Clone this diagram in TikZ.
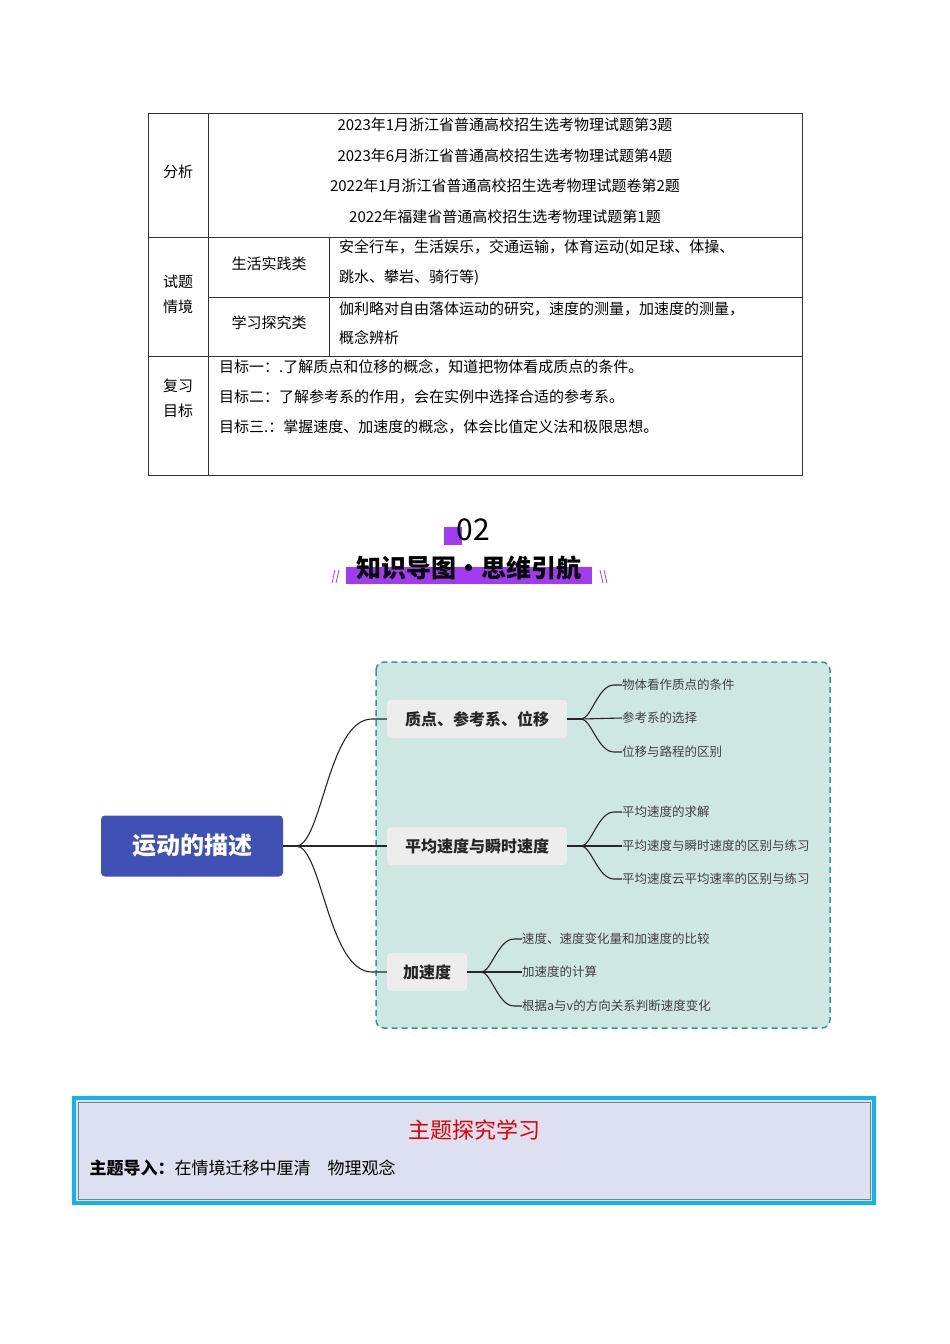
\documentclass[tikz,border=0pt]{standalone}
\usepackage{fontspec}
\setmainfont{Noto Sans CJK SC}
\usetikzlibrary{positioning,calc}
\definecolor{rootblue}{HTML}{3F51B5}
\definecolor{mapbg}{HTML}{CFE7E3}
\definecolor{mapline}{HTML}{2A9D8F}
\definecolor{topicbg}{HTML}{EDEDED}
\definecolor{purp}{HTML}{A23BF0}
\definecolor{boxbg}{HTML}{DCE0F0}
\definecolor{boxcyan}{HTML}{12B4EE}
\tikzset{
  cell/.style={font=\fontsize{15}{17}\selectfont,inner sep=0pt},
  topic/.style={fill=topicbg,rounded corners=4pt,minimum height=38pt,font=\fontsize{16}{18}\selectfont\bfseries,text=black!85},
  leaf/.style={anchor=west,font=\fontsize{12.5}{14}\selectfont,text=black!75,inner sep=0pt},
  branch/.style={black!85,line width=1.1pt},
}
\begin{document}
\begin{tikzpicture}[x=1pt,y=-1pt]
\useasboundingbox (0,0) rectangle (950,1344);
% table
\draw[black!80,line width=0.6pt] (148,113) rectangle (802,475);
\draw[black!80,line width=0.6pt] (208,113) -- (208,475) (148,237) -- (802,237) (148,356) -- (802,356)
  (329,237) -- (329,356) (208,297) -- (802,297);
\node[cell] (fx) at (178,172) {分析};
\node[cell] (s1) at (505,125) {2023年1月浙江省普通高校招生选考物理试题第3题};
\node[cell] (s2) at (505,156) {2023年6月浙江省普通高校招生选考物理试题第4题};
\node[cell] (s3) at (505,186) {2022年1月浙江省普通高校招生选考物理试题卷第2题};
\node[cell] (s4) at (505,217) {2022年福建省普通高校招生选考物理试题第1题};
\node[cell,align=center] (qj) at (178,294) {试题\\[8pt]情境};
\node[cell] (sh) at (269,264) {生活实践类};
\node[cell] (xx) at (269,323) {学习探究类};
\node[cell,anchor=west] (sh1) at (339,248) {安全行车，生活娱乐，交通运输，体育运动(如足球、体操、};
\node[cell,anchor=west] (sh2) at (339,278) {跳水、攀岩、骑行等)};
\node[cell,anchor=west] (xx1) at (339,309) {伽利略对自由落体运动的研究，速度的测量，加速度的测量，};
\node[cell,anchor=west] (xx2) at (339,338) {概念辨析};
\node[cell,align=center] (fm) at (178,398) {复习\\[8pt]目标};
\node[cell,anchor=west] (m1) at (219,367) {目标一：.了解质点和位移的概念，知道把物体看成质点的条件。};
\node[cell,anchor=west] (m2) at (219,397) {目标二：了解参考系的作用，会在实例中选择合适的参考系。};
\node[cell,anchor=west] (m3) at (219,427) {目标三.：掌握速度、加速度的概念，体会比值定义法和极限思想。};
% heading
\fill[purp] (444,527) rectangle (462,545);
\node[font=\fontsize{30}{30}\selectfont] (num) at (473,530) {02};
\fill[purp] (346,567) rectangle (592,584);
\node[font=\fontsize{25}{25}\selectfont\bfseries] (ttl) at (469,568) {知识导图·思维引航};
\draw[purp,line width=0.8pt] (332,583) -- (335,570) (336,583) -- (339,570) (600,570) -- (603,583) (604,570) -- (607,583);
% mind map
\draw[mapline,fill=mapbg,dash pattern=on 6pt off 4pt,line width=1.5pt,rounded corners=8pt] (376,662) rectangle (830,1028);
\node[fill=rootblue,rounded corners=4pt,minimum width=182pt,minimum height=61pt,text=white,font=\fontsize{24}{26}\selectfont\bfseries] (root) at (192,846) {运动的描述};
\node[topic,minimum width=180pt] (zd) at (477,719) {质点、参考系、位移};
\node[topic,minimum width=180pt] (pj) at (477,846) {平均速度与瞬时速度};
\node[topic,minimum width=80pt] (jsd) at (427,972) {加速度};
\node[leaf] (a1) at (622,685) {物体看作质点的条件};
\node[leaf] (a2) at (622,718) {参考系的选择};
\node[leaf] (a3) at (622,752) {位移与路程的区别};
\node[leaf] (b1) at (622,812) {平均速度的求解};
\node[leaf] (b2) at (622,846) {平均速度与瞬时速度的区别与练习};
\node[leaf] (b3) at (622,879) {平均速度云平均速率的区别与练习};
\node[leaf] (c1) at (522,939) {速度、速度变化量和加速度的比较};
\node[leaf] (c2) at (522,972) {加速度的计算};
\node[leaf] (c3) at (522,1006) {根据a与v的方向关系判断速度变化};
\draw[branch] (root.east) -- (296,846) coordinate (rk) -- (pj.west);
\draw[branch] (rk) .. controls (322,846) and (328,719) .. (372,719) -- (zd.west);
\draw[branch] (rk) .. controls (322,846) and (328,972) .. (372,972) -- (jsd.west);
\foreach \t/\l in {zd/a,pj/b,jsd/c}{
  \draw[branch] (\t.east) -- ($(\t.east)+(14,0)$) coordinate (\t k);
  \draw[branch] (\t k) .. controls +(10,0) and +(-16,0) .. ($(\l1.west)+(-8,0)$) -- (\l1.west);
  \draw[branch] (\t k) -- (\l2.west);
  \draw[branch] (\t k) .. controls +(10,0) and +(-16,0) .. ($(\l3.west)+(-8,0)$) -- (\l3.west);
}
% bottom box
\draw[boxcyan,fill=boxbg,line width=4pt] (74,1098) rectangle (874,1203);
\draw[black!50,line width=0.5pt] (78,1102) rectangle (870,1199);
\node[text=red!90!black,font=\fontsize{22}{24}\selectfont] (zt) at (474,1130) {主题探究学习};
\node[anchor=west,font=\fontsize{17}{19}\selectfont] (dr) at (86,1168) {\textbf{主题导入：}在情境迁移中厘清\quad 物理观念};
\end{tikzpicture}
\end{document}
